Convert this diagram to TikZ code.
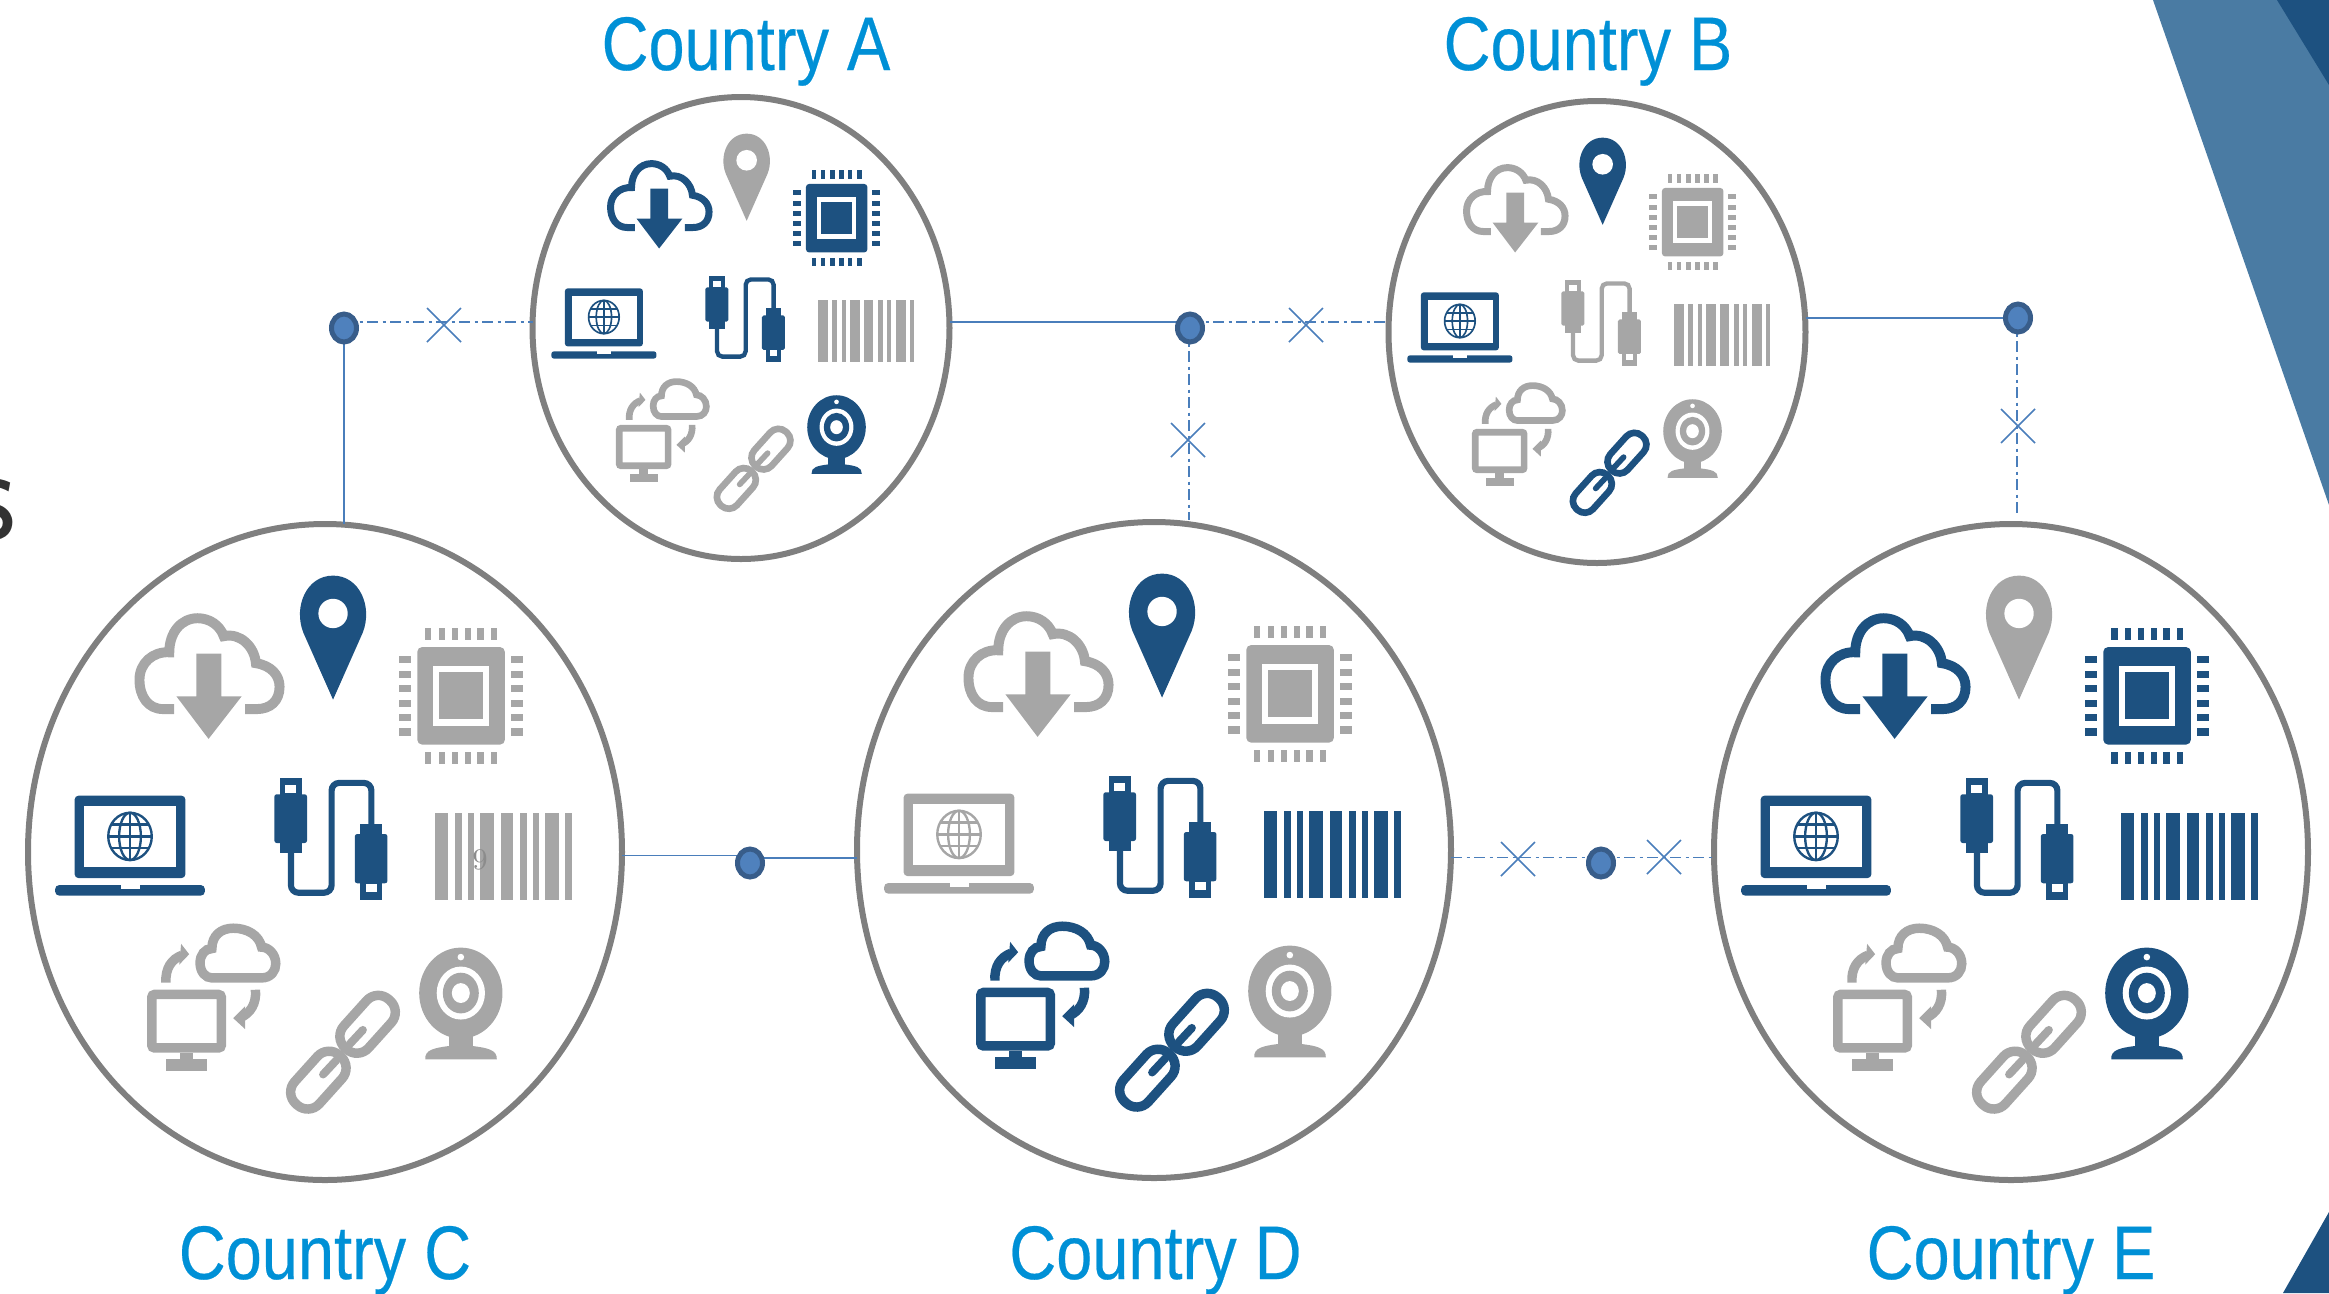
\documentclass[tikz,border=0pt]{standalone}
\usepackage{fontspec}
\usetikzlibrary{shapes.geometric}
\newfontfamily\lib[FakeBold=0.35]{Liberation Sans}
\definecolor{ib}{HTML}{1D5180}
\definecolor{ig}{HTML}{A6A6A6}
\definecolor{ttl}{HTML}{0090D6}
\definecolor{ln}{HTML}{4A7EBB}
\definecolor{dotf}{HTML}{4F81BD}
\definecolor{dotb}{HTML}{385D8A}
\definecolor{ring}{HTML}{7F7F7F}
\definecolor{sidea}{HTML}{4A7BA3}
\definecolor{sideb}{HTML}{1D5180}
\newdimen\iu
\tikzset{
  smallcirc/.style={ellipse,draw=ring,line width=6*0.01cm,inner sep=0,outer sep=0,minimum width=417*0.01cm,minimum height=462*0.01cm},
  bigcirc/.style={ellipse,draw=ring,line width=6*0.01cm,inner sep=0,outer sep=0,minimum width=594*0.01cm,minimum height=656*0.01cm},
  title/.style={font=\lib\fontsize{21.6pt}{24pt}\selectfont,text=ttl,xscale=.855,inner sep=0,anchor=base},
  hub/.style={ellipse,fill=dotf,draw=dotb,line width=5*0.01cm,inner sep=0,outer sep=0,minimum width=25*0.01cm,minimum height=28*0.01cm},
  solidl/.style={draw=ln,line width=1.8*0.01cm},
  ddl/.style={draw=ln,line width=1.8*0.01cm,dash pattern=on 11*0.01cm off 4.5*0.01cm on 3*0.01cm off 4.5*0.01cm},
  cross/.style={draw=ln,line width=1.5*0.01cm},
}
% --- icons, drawn in the coordinates of a 3x view of circle A ---
\newcommand\icCloud[1]{%
  \draw[#1,line width=21\iu,fill=none] (345,412) -- (322,412) .. controls (290,412) and (272,385) .. (272,350) .. controls (272,315) and (300,290) .. (335,292) .. controls (335,250) and (360,220) .. (395,220) .. controls (420,220) and (442,235) .. (450,258) .. controls (485,250) and (515,280) .. (518,315) .. controls (550,320) and (568,340) .. (568,365) .. controls (568,395) and (548,412) .. (520,412) -- (495,412);
  \fill[#1] (392,295) -- (445,295) -- (445,385) -- (488,385) -- (418,475) -- (350,385) -- (392,385) -- cycle;}
\newcommand\icPin[1]{%
  \fill[#1] (681,392) -- (618,250) .. controls (597,195) and (625,130) .. (681,130) .. controls (737,130) and (765,195) .. (744,250) -- cycle;
  \fill[white] (681,210) circle (31);}
\newcommand\icChip[1]{%
  \fill[#1,rounded corners=10\iu] (859,281) rectangle (1044,487);
  \fill[white] (892,320) rectangle (1010,448);
  \fill[#1] (905,334) rectangle (997,433);
  \foreach \p in {876,904,932,959,986,1014}{
    \fill[#1] (\p,240) rectangle ++(13,26);
    \fill[#1] (\p,503) rectangle ++(13,26);}
  \foreach \p in {300,331,361,392,423,453}{
    \fill[#1] (820,\p) rectangle ++(25,15);
    \fill[#1] (1058,\p) rectangle ++(25,15);}}
\newcommand\icLaptop[1]{%
  \fill[#1,rounded corners=8\iu] (135,769) -- (135,595) -- (369,595) -- (369,769) -- cycle;
  \fill[white] (155,617) rectangle (350,746);
  \fill[#1,rounded corners=8\iu] (94,784) -- (410,784) -- (410,806) -- (94,806) -- cycle;
  \fill[white] (232,784) rectangle (273,792);
  \begin{scope}[#1,line width=5\iu]
    \draw (252,681) ellipse (46 and 50);
    \draw (252,681) ellipse (23 and 50);
    \draw (252,631) -- (252,731);
    \draw (206,681) -- (298,681);
    \draw (212,656) -- (292,656);
    \draw (212,706) -- (292,706);
  \end{scope}}
\newcommand\icUsb[1]{%
  \draw[#1,line width=13\iu,rounded corners=16\iu] (592,710) -- (592,800) -- (678,800) -- (678,568) -- (762,568) -- (762,660);
  \fill[#1] (568,557) rectangle (615,600);
  \fill[white] (580,572) rectangle (603,590);
  \fill[#1,rounded corners=5\iu] (557,592) rectangle (626,695);
  \fill[#1] (568,685) rectangle (615,716);
  \fill[#1] (738,655) rectangle (785,690);
  \fill[#1,rounded corners=5\iu] (727,676) rectangle (796,780);
  \fill[#1] (738,770) rectangle (785,815);
  \fill[white] (750,781) rectangle (773,798);}
\newcommand\icBars[1]{%
  \foreach \a/\b in {896/924,938/953,966/979,992/1022,1035/1062,1075/1090,1103/1116,1129/1159,1172/1185}{
    \fill[#1] (\a,631) rectangle (\b,815);}}
\newcommand\icSync[1]{%
  \draw[#1,line width=20\iu,fill=none] (425,980) -- (530,980) .. controls (550,980) and (560,965) .. (560,950) .. controls (560,930) and (545,915) .. (530,915) .. controls (525,890) and (500,875) .. (470,875) .. controls (445,875) and (425,890) .. (425,918) .. controls (410,918) and (400,932) .. (400,948) .. controls (400,968) and (412,980) .. (425,980) -- cycle;
  \draw[#1,line width=20\iu,rounded corners=6\iu] (298,1015) rectangle (445,1128);
  \fill[#1] (358,1138) rectangle (385,1152);
  \fill[#1] (329,1152) rectangle (414,1177);
  \draw[#1,line width=20\iu] (328,990) .. controls (326,960) and (340,940) .. (362,932);
  \fill[#1] (360,908) -- (377,930) -- (356,952) -- cycle;
  \draw[#1,line width=20\iu] (517,1005) .. controls (520,1035) and (505,1055) .. (487,1063);
  \fill[#1] (495,1040) -- (470,1065) -- (495,1088) -- cycle;}
\newcommand\icLink[1]{%
  \draw[#1,line width=20\iu,rounded corners=33\iu,rotate around={48:(754,1078)}] (685,1043) rectangle (823,1113);
  \draw[#1,line width=20\iu,rounded corners=33\iu,rotate around={48:(650,1196)}] (581,1161) rectangle (719,1231);
  \draw[#1,line width=17\iu,line cap=round] (744,1090) -- (716,1120);
  \draw[#1,line width=17\iu,line cap=round] (660,1184) -- (688,1154);}
\newcommand\icCam[1]{%
  \fill[#1] (925,1095) rectangle (977,1135);
  \fill[#1] (876,1152) .. controls (874,1132) and (895,1128) .. (925,1124) -- (977,1124) .. controls (1007,1128) and (1028,1132) .. (1027,1152) -- cycle;
  \fill[#1] (951,1012) ellipse (88 and 96);
  \fill[white] (951,1012) ellipse (51 and 56);
  \fill[#1] (951,1012) ellipse (38 and 43);
  \fill[white] (951,1012) ellipse (19 and 21);
  \fill[white] (951,936) circle (7);}
% #1 x, #2 y, #3 unit(cm), then nine colours
\newcommand\iconset[9]{%
  \begin{scope}[shift={(#1,#2)},x=#3cm,y=-#3cm,shift={(-664,-714)}]
    \iu=#3cm
    \icCloud{#4}\icPin{#5}\icChip{#6}\icLaptop{#7}\icUsb{#8}\icBars{#9}%
    \iconsetb}
\newcommand\iconsetb[3]{\icSync{#1}\icLink{#2}\icCam{#3}\end{scope}}
\begin{document}
\begin{tikzpicture}[x=0.01cm,y=-0.01cm]
\useasboundingbox (0,0) rectangle (2329,1293);
% slide decoration
\fill[sidea] (2153,0) -- (2329,0) -- (2329,505) -- cycle;
\fill[sideb] (2277,0) -- (2329,0) -- (2329,85) -- cycle;
\fill[sideb] (2329,1212) -- (2329,1293) -- (2283,1293) -- cycle;
\node[font=\sffamily\fontsize{39pt}{39pt}\selectfont,text=black!80,inner sep=0,anchor=center] (frag) at (-9,510) {s};
% country circles
\node[smallcirc] (A) at (741,328) {};
\node[smallcirc] (B) at (1597,332) {};
\node[bigcirc] (C) at (325,852) {};
\node[bigcirc] (D) at (1154,850) {};
\node[bigcirc] (E) at (2011,852) {};
% titles
\node[title] (tA) at (746,70) {Country A};
\node[title] (tB) at (1588,70) {Country B};
\node[title] (tC) at (325,1279) {Country C};
\node[title] (tD) at (1155.5,1279) {Country D};
\node[title] (tE) at (2011,1279) {Country E};
% icons
\iconset{741}{328}{0.003333}{ib}{ig}{ib}{ib}{ib}{ig}{ig}{ig}{ib}
\iconset{1597}{332}{0.003333}{ig}{ib}{ig}{ib}{ig}{ig}{ig}{ib}{ig}
\iconset{325}{852}{0.004727}{ig}{ib}{ig}{ib}{ib}{ig}{ig}{ig}{ig}
\iconset{1154}{850}{0.004727}{ig}{ib}{ig}{ig}{ib}{ib}{ib}{ib}{ig}
\iconset{2011}{852}{0.004727}{ib}{ig}{ib}{ib}{ib}{ib}{ig}{ig}{ib}
\node[font=\fontsize{8.5pt}{9pt}\selectfont,text=black!45,inner sep=0] (pg) at (480,860) {9};
% hub attachment points
\coordinate (h1a) at (344,322);
\coordinate (h1b) at (344,328);
\coordinate (h2a) at (1190,322);
\coordinate (h2b) at (1189,328);
\coordinate (h3a) at (2018,318);
\coordinate (h3b) at (2017,318);
\coordinate (h4a) at (750,855.5);
\coordinate (h4b) at (750,858);
\coordinate (h5a) at (1601,857.5);
\coordinate (d2top) at (1189,520);
\coordinate (e2top) at (2017,515);
% connectors
\draw[ddl] (h1a) -- (h1a -| A.west);
\draw[solidl] (h1b) -- (h1b |- C.north);
\draw[solidl] (h2a -| A.east) -- (h2a);
\draw[ddl] (h2a) -- (h2a -| B.west);
\draw[ddl] (h2b) -- (d2top);
\draw[solidl] (h3a -| B.east) -- (h3a);
\draw[ddl] (h3b) -- (e2top);
\draw[solidl] (h4a -| C.east) -- (h4a);
\draw[solidl] (h4b) -- (h4b -| D.west);
\draw[ddl] (h5a -| D.east) -- (h5a);
\draw[ddl] (h5a) -- (h5a -| E.west);
% hubs
\node[hub] (h1) at (344,328) {};
\node[hub] (h2) at (1190,328) {};
\node[hub] (h3) at (2018,318) {};
\node[hub] (h4) at (750,863) {};
\node[hub] (h5) at (1601,863) {};
% crosses
\foreach \n/\x/\y in {x1/444/325,x2/1306/325,x3/1188/440,x4/2018/426,x5/1518/859,x6/1664/857}{
  \draw[cross] (\x-17,\y-17) -- (\x+17,\y+17);
  \draw[cross] (\x+17,\y-17) -- (\x-17,\y+17);
}
\end{tikzpicture}
\end{document}
